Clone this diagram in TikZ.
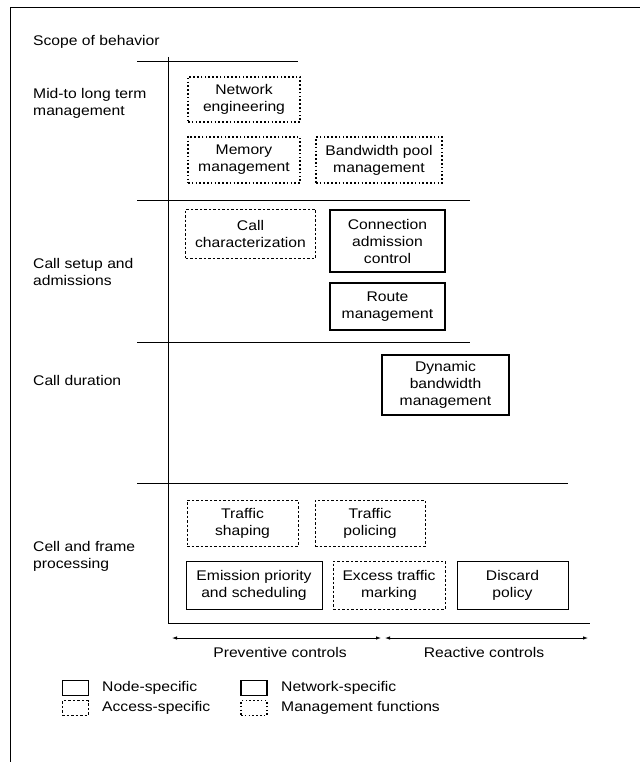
\documentclass[tikz,border=0pt]{standalone}
\usepackage{fontspec}
\setmainfont[FakeStretch=1.12]{Liberation Sans}
\usetikzlibrary{arrows.meta}
\begin{document}
\begin{tikzpicture}[x=1pt,y=-1pt,
  every node/.style={font=\fontsize{14}{17}\selectfont, inner sep=1pt},
  nodebox/.style={draw, line width=0.8pt},
  netbox/.style={draw, line width=1.8pt},
  accbox/.style={draw, line width=0.8pt, dash pattern=on 2.5pt off 2pt},
  mgmtbox/.style={draw, line width=1.9pt, dash pattern=on 1.6pt off 2.2pt},
  rowlabel/.style={anchor=west, align=left},
  axis/.style={line width=0.8pt},
  tip/.style={{Latex[length=5pt,width=3.5pt]}-{Latex[length=5pt,width=3.5pt]}}
]
\useasboundingbox (0,0) rectangle (640,762);
% frame
\draw[line width=0.8pt] (10,762) -- (10,7) -- (640,7);
\node[anchor=west] (scope) at (32,42) {Scope of behavior};
% axes
\coordinate (vtop) at (168,57);
\coordinate (vbot) at (168,623);
\draw[axis] (vtop) -- (vbot);
\draw[axis] (137,61) -- (298,61);
\draw[axis] (137,200) -- (470,200);
\draw[axis] (137,342) -- (470,342);
\draw[axis] (137,483) -- (568,483);
\draw[axis] (vbot) -- (590,623);
% row labels
\node[rowlabel] (l1) at (32,103) {Mid-to long term\\management};
\node[rowlabel] (l2) at (32,272) {Call setup and\\admissions};
\node[rowlabel] (l3) at (32,380) {Call duration};
\node[rowlabel] (l4) at (32,556) {Cell and frame\\processing};
% boxes
\node[mgmtbox, align=center, minimum width=112pt, minimum height=45pt] (ne) at (244,99.5) {Network\\engineering};
\node[mgmtbox, align=center, minimum width=112pt, minimum height=46pt] (mm) at (244,160) {Memory\\management};
\node[mgmtbox, align=center, minimum width=126pt, minimum height=46pt] (bp) at (379,160) {Bandwidth pool\\management};
\node[accbox, align=center, minimum width=130pt, minimum height=49pt] (cc) at (250.5,233.5) {Call\\characterization};
\node[netbox, align=center, minimum width=115pt, minimum height=62pt] (cac) at (387.5,241) {Connection\\admission\\control};
\node[netbox, align=center, minimum width=115pt, minimum height=47pt] (rm) at (387.5,306.5) {Route\\management};
\node[netbox, align=center, minimum width=127pt, minimum height=60pt] (dbm) at (445.5,385) {Dynamic\\bandwidth\\management};
\node[accbox, align=center, minimum width=111pt, minimum height=46pt] (ts) at (242.5,523) {Traffic\\shaping};
\node[accbox, align=center, minimum width=110pt, minimum height=46pt] (tp) at (370,523) {Traffic\\policing};
\node[nodebox, align=center, minimum width=136pt, minimum height=48pt] (eps) at (254,585) {Emission priority\\and scheduling};
\node[accbox, align=center, minimum width=112pt, minimum height=48pt] (etm) at (389,585) {Excess traffic\\marking};
\node[nodebox, align=center, minimum width=111pt, minimum height=48pt] (dp) at (512.5,585) {Discard\\policy};
% control arrows
\coordinate (p1) at (172,638);
\coordinate (p2) at (381,638);
\coordinate (r1) at (385,638);
\coordinate (r2) at (588,638);
\draw[axis, tip] (p1) -- (p2);
\draw[axis, tip] (r1) -- (r2);
\node (prev) at (280,652) {Preventive controls};
\node (reac) at (484,652) {Reactive controls};
% legend
\node[nodebox, minimum width=26pt, minimum height=15pt] (k1) at (75,688) {};
\node[anchor=west] (t1) at (101,688) {Node-specific};
\node[netbox, minimum width=26pt, minimum height=15pt] (k2) at (254,688) {};
\node[anchor=west] (t2) at (280,688) {Network-specific};
\node[accbox, minimum width=26pt, minimum height=15pt] (k3) at (75,708) {};
\node[anchor=west] (t3) at (101,708) {Access-specific};
\node[mgmtbox, minimum width=26pt, minimum height=15pt] (k4) at (254,708) {};
\node[anchor=west] (t4) at (280,708) {Management functions};
\end{tikzpicture}
\end{document}
